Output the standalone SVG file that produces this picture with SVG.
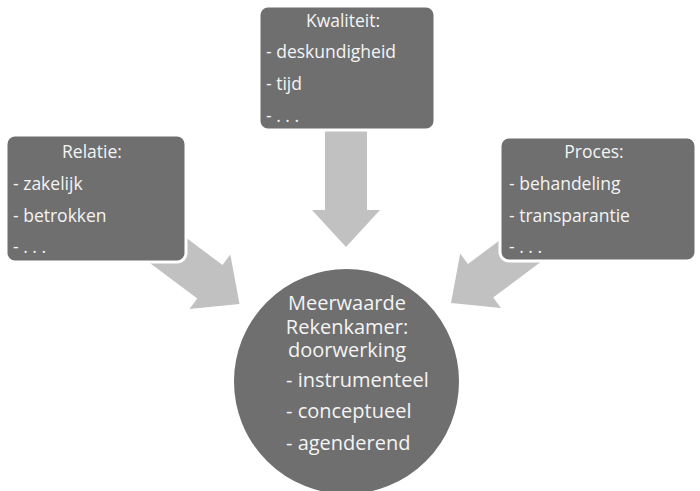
<svg xmlns="http://www.w3.org/2000/svg" width="700" height="491" viewBox="0 0 700 491">
<defs>
<style>
.box{fill:#6f6f6f;stroke:#ffffff;stroke-width:3}
.arr{fill:#c1c1c1}
.t{font-family:"Open Sans","Noto Sans",sans-serif;font-size:17.5px;fill:#f4f4f4}
.h{text-anchor:middle}
.c{font-family:"Open Sans","Noto Sans",sans-serif;font-size:20px;fill:#f4f4f4}
</style>
<path id="arrow" d="M0,0 L-37,-34 L-37,-21 L-125,-21 L-125,21 L-37,21 L-37,34 Z"/>
</defs>
<rect width="700" height="491" fill="#ffffff"/>
<g id="connectors">
<use href="#arrow" class="arr" transform="translate(346,247) rotate(90)"/>
<use href="#arrow" class="arr" transform="translate(239.5,304) rotate(36.87)"/>
<use href="#arrow" class="arr" transform="translate(451,303) rotate(143.13)"/>
</g>
<g id="kwaliteit">
<rect class="box" x="259" y="6" width="176" height="124" rx="9"/>
<text class="t h" x="343" y="27">Kwaliteit:</text>
<text class="t" x="266" y="58">- deskundigheid</text>
<text class="t" x="266" y="90">- tijd</text>
<text class="t" x="266" y="122">- . . .</text>
</g>
<g id="relatie">
<rect class="box" x="6" y="135" width="180" height="127" rx="9"/>
<text class="t h" x="92" y="158">Relatie:</text>
<text class="t" x="13" y="190">- zakelijk</text>
<text class="t" x="13" y="222">- betrokken</text>
<text class="t" x="13" y="253">- . . .</text>
</g>
<g id="proces">
<rect class="box" x="500" y="137" width="196" height="124" rx="9"/>
<text class="t h" x="594" y="158">Proces:</text>
<text class="t" x="509" y="190">- behandeling</text>
<text class="t" x="509" y="222">- transparantie</text>
<text class="t" x="509" y="253">- . . .</text>
</g>
<g id="meerwaarde">
<circle class="box" cx="346.5" cy="381.5" r="114"/>
<text class="c h" x="347" y="310">Meerwaarde</text>
<text class="c h" x="347" y="334">Rekenkamer:</text>
<text class="c h" x="347" y="357">doorwerking</text>
<text class="c" x="286" y="387">- instrumenteel</text>
<text class="c" x="286" y="418">- conceptueel</text>
<text class="c" x="286" y="450">- agenderend</text>
</g>
</svg>
